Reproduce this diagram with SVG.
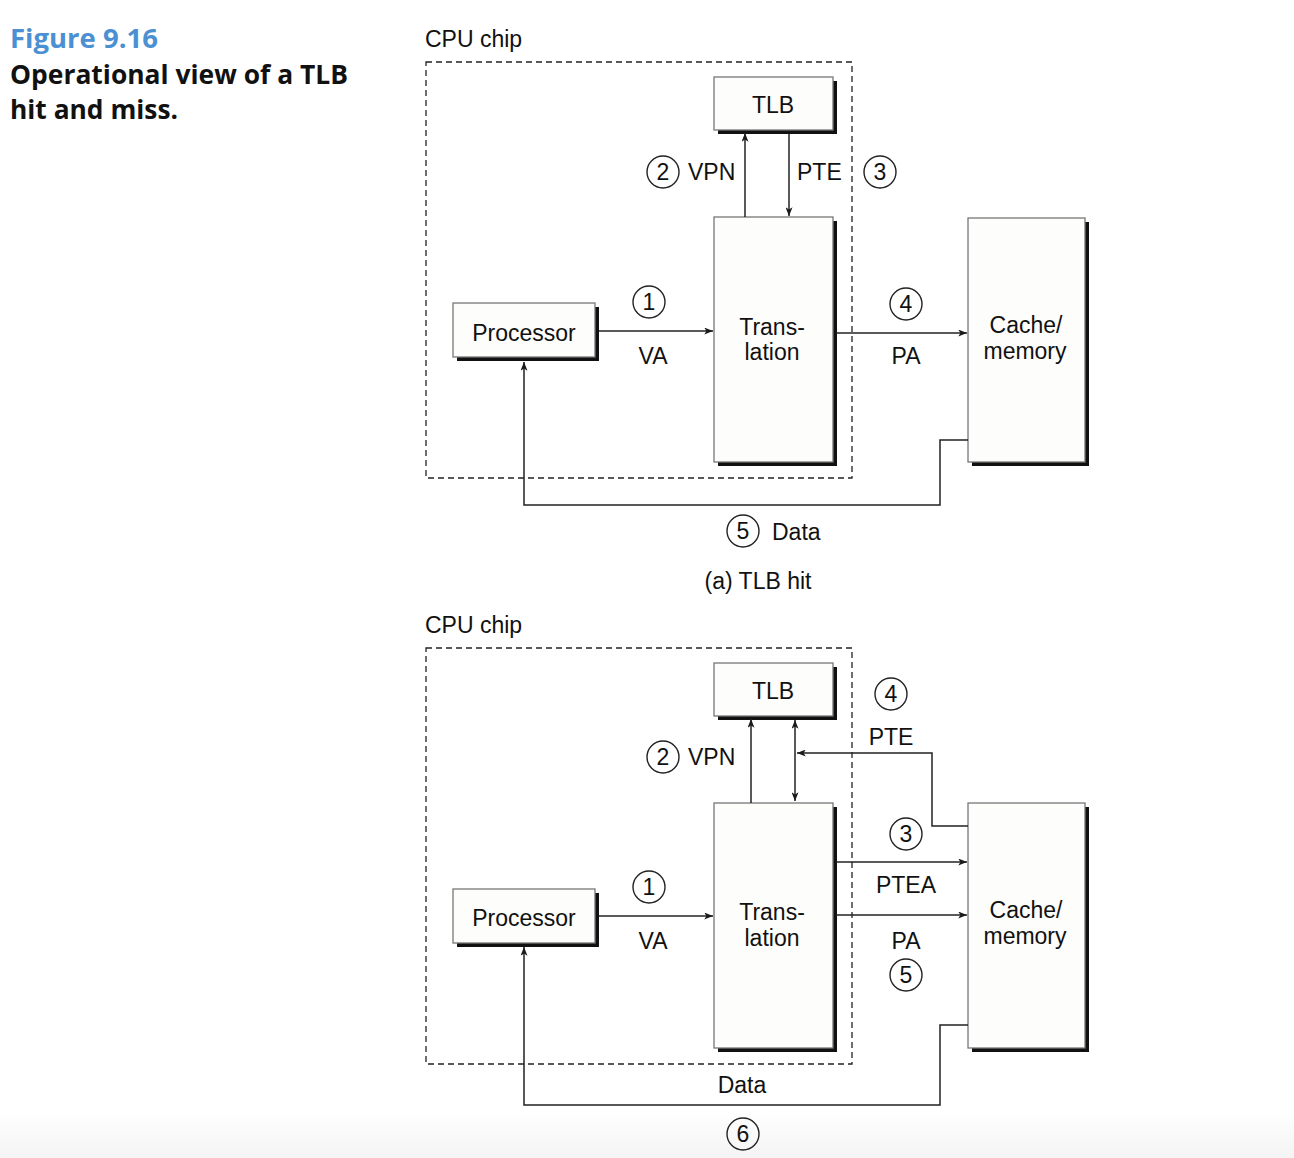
<svg xmlns="http://www.w3.org/2000/svg" width="1294" height="1158" viewBox="0 0 1294 1158">
  <defs>
    <marker id="arr" viewBox="0 0 10 8" refX="10" refY="4" markerWidth="9" markerHeight="7" markerUnits="userSpaceOnUse" orient="auto-start-reverse">
      <path d="M0,0 L10,4 L0,8 L2.5,4 Z" fill="#1a1a1a"/>
    </marker>
    <linearGradient id="floor" x1="0" y1="0" x2="0" y2="1">
      <stop offset="0" stop-color="#ffffff"/>
      <stop offset="1" stop-color="#f4f4f4"/>
    </linearGradient>
  </defs>
  <style>
    .title { font-family: "Open Sans", "Noto Sans", sans-serif; font-weight: 700; font-size: 27px; }
    .fig { fill: #4a90d2; }
    .cap { fill: #111; }
    .t { font-family: "Liberation Sans", Arial, sans-serif; font-size: 23px; fill: #111; }
    .c { text-anchor: middle; }
    .chip { fill: none; stroke: #222; stroke-width: 1.3; stroke-dasharray: 6 4; }
    .shadow { fill: #111; }
    .box { fill: #fdfdfb; stroke: #777; stroke-width: 1.3; }
    .ln { fill: none; stroke: #222; stroke-width: 1.5; }
    .num { fill: none; stroke: #222; stroke-width: 1.4; }
  </style>

  <rect x="0" y="1110" width="1294" height="48" fill="url(#floor)"/>

  <!-- caption -->
  <text class="title fig" x="10" y="48" textLength="148" lengthAdjust="spacingAndGlyphs">Figure 9.16</text>
  <text class="title cap" x="10" y="84" textLength="338" lengthAdjust="spacingAndGlyphs">Operational view of a TLB</text>
  <text class="title cap" x="10" y="119" textLength="168" lengthAdjust="spacingAndGlyphs">hit and miss.</text>

  <!-- ===== (a) TLB hit ===== -->
  <g id="chip-a">
    <text class="t" x="425" y="47">CPU chip</text>
    <rect class="chip" x="426" y="62" width="426" height="416"/>
  </g>

  <g id="tlb-a">
    <rect class="shadow" x="718" y="81" width="119" height="53"/>
    <rect class="box" x="714" y="77" width="119" height="53"/>
    <text class="t c" x="773" y="113">TLB</text>
  </g>
  <g id="translation-a">
    <rect class="shadow" x="718" y="221" width="119" height="245"/>
    <rect class="box" x="714" y="217" width="119" height="245"/>
    <text class="t c" x="772" y="335">Trans-</text>
    <text class="t c" x="772" y="360">lation</text>
  </g>
  <g id="processor-a">
    <rect class="shadow" x="457" y="307" width="142" height="54"/>
    <rect class="box" x="453" y="303" width="142" height="54"/>
    <text class="t c" x="524" y="341">Processor</text>
  </g>
  <g id="cache-a">
    <rect class="shadow" x="972" y="222" width="117" height="244"/>
    <rect class="box" x="968" y="218" width="117" height="244"/>
    <text class="t c" x="1026" y="333">Cache/</text>
    <text class="t c" x="1025" y="359">memory</text>
  </g>

  <g id="connectors-a">
    <line class="ln" x1="745" y1="217" x2="745" y2="133" marker-end="url(#arr)"/>
    <line class="ln" x1="789" y1="134" x2="789" y2="216" marker-end="url(#arr)"/>
    <line class="ln" x1="599" y1="331" x2="713" y2="331" marker-end="url(#arr)"/>
    <line class="ln" x1="836" y1="333" x2="967" y2="333" marker-end="url(#arr)"/>
    <polyline class="ln" points="968,440 940,440 940,505 524,505 524,362" marker-end="url(#arr)"/>
  </g>

  <g id="labels-a">
    <circle class="num" cx="663" cy="172" r="16"/>
    <text class="t c" x="663" y="180">2</text>
    <text class="t" x="688" y="180">VPN</text>
    <text class="t" x="797" y="180">PTE</text>
    <circle class="num" cx="880" cy="172" r="16"/>
    <text class="t c" x="880" y="180">3</text>
    <circle class="num" cx="649" cy="302" r="16"/>
    <text class="t c" x="649" y="310">1</text>
    <text class="t c" x="653" y="364">VA</text>
    <circle class="num" cx="906" cy="304" r="16"/>
    <text class="t c" x="906" y="312">4</text>
    <text class="t c" x="906" y="364">PA</text>
    <circle class="num" cx="743" cy="531" r="16"/>
    <text class="t c" x="743" y="539">5</text>
    <text class="t" x="772" y="540">Data</text>
    <text class="t c" x="758" y="589">(a) TLB hit</text>
  </g>

  <!-- ===== (b) TLB miss ===== -->
  <g id="chip-b">
    <text class="t" x="425" y="633">CPU chip</text>
    <rect class="chip" x="426" y="648" width="426" height="416"/>
  </g>

  <g id="tlb-b">
    <rect class="shadow" x="718" y="667" width="119" height="53"/>
    <rect class="box" x="714" y="663" width="119" height="53"/>
    <text class="t c" x="773" y="699">TLB</text>
  </g>
  <g id="translation-b">
    <rect class="shadow" x="718" y="807" width="119" height="245"/>
    <rect class="box" x="714" y="803" width="119" height="245"/>
    <text class="t c" x="772" y="920">Trans-</text>
    <text class="t c" x="772" y="946">lation</text>
  </g>
  <g id="processor-b">
    <rect class="shadow" x="457" y="893" width="142" height="54"/>
    <rect class="box" x="453" y="889" width="142" height="54"/>
    <text class="t c" x="524" y="926">Processor</text>
  </g>
  <g id="cache-b">
    <rect class="shadow" x="972" y="807" width="117" height="245"/>
    <rect class="box" x="968" y="803" width="117" height="245"/>
    <text class="t c" x="1026" y="918">Cache/</text>
    <text class="t c" x="1025" y="944">memory</text>
  </g>

  <g id="connectors-b">
    <line class="ln" x1="751" y1="803" x2="751" y2="719" marker-end="url(#arr)"/>
    <line class="ln" x1="795" y1="720" x2="795" y2="801" marker-start="url(#arr)" marker-end="url(#arr)"/>
    <polyline class="ln" points="968,826 932,826 932,753 797,753" marker-end="url(#arr)"/>
    <line class="ln" x1="836" y1="862" x2="967" y2="862" marker-end="url(#arr)"/>
    <line class="ln" x1="836" y1="915" x2="967" y2="915" marker-end="url(#arr)"/>
    <line class="ln" x1="599" y1="916" x2="713" y2="916" marker-end="url(#arr)"/>
    <polyline class="ln" points="968,1025 940,1025 940,1105 524,1105 524,947" marker-end="url(#arr)"/>
  </g>

  <g id="labels-b">
    <circle class="num" cx="891" cy="694" r="16"/>
    <text class="t c" x="891" y="702">4</text>
    <text class="t c" x="891" y="745">PTE</text>
    <circle class="num" cx="663" cy="757" r="16"/>
    <text class="t c" x="663" y="765">2</text>
    <text class="t" x="688" y="765">VPN</text>
    <circle class="num" cx="906" cy="834" r="16"/>
    <text class="t c" x="906" y="842">3</text>
    <text class="t c" x="906" y="893">PTEA</text>
    <circle class="num" cx="649" cy="887" r="16"/>
    <text class="t c" x="649" y="895">1</text>
    <text class="t c" x="653" y="949">VA</text>
    <text class="t c" x="906" y="949">PA</text>
    <circle class="num" cx="906" cy="975" r="16"/>
    <text class="t c" x="906" y="983">5</text>
    <text class="t c" x="742" y="1093">Data</text>
    <circle class="num" cx="743" cy="1134" r="16"/>
    <text class="t c" x="743" y="1142">6</text>
  </g>
</svg>
